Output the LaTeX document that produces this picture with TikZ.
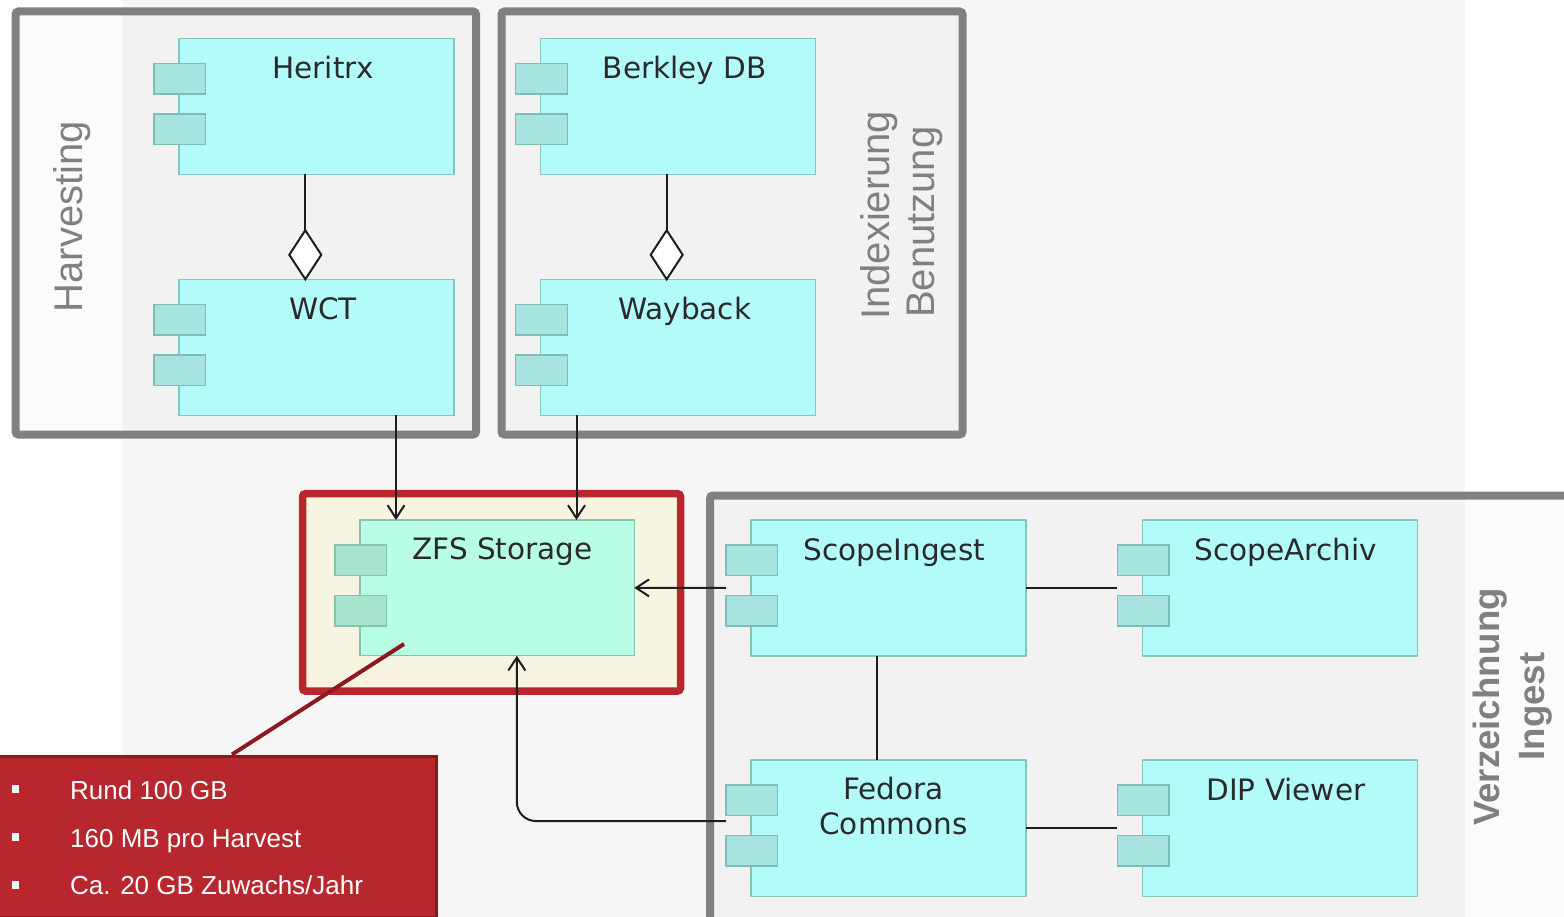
\documentclass[tikz,border=0pt]{standalone}
\usepackage{fontspec}
\setmainfont{DejaVu Sans}
\newfontfamily\lsans{Liberation Sans}
\usetikzlibrary{arrows.meta,shapes.geometric,calc}
\definecolor{band}{HTML}{F6F6F6}
\definecolor{framegray}{HTML}{808080}
\definecolor{compfill}{HTML}{B3FBF8}
\definecolor{compline}{HTML}{86C4C1}
\definecolor{portfill}{HTML}{A7E3DF}
\definecolor{portline}{HTML}{7DBDB9}
\definecolor{zfsfill}{HTML}{B8FDE5}
\definecolor{zfsport}{HTML}{A7E4CE}
\definecolor{zfsline}{HTML}{86C4AE}
\definecolor{cream}{HTML}{F7F5E2}
\definecolor{redbox}{HTML}{B8262E}
\definecolor{darkred}{HTML}{8B1A1F}
\definecolor{ink}{HTML}{1E1E1E}
\definecolor{lbl}{HTML}{2A2A2A}
\definecolor{grplbl}{HTML}{808080}
\tikzset{
  comp/.style={draw=compline, fill=compfill, line width=1.5pt, anchor=north west,
    minimum width=275pt, minimum height=136pt, inner sep=0pt, outer sep=0pt},
  zcomp/.style={comp, draw=zfsline, fill=zfsfill},
  port/.style={draw=portline, fill=portfill, line width=1.5pt},
  zport/.style={draw=zfsline, fill=zfsport, line width=1.5pt},
  clabel/.style={anchor=base, text=lbl, font=\fontsize{29.5}{35}\selectfont, inner sep=0pt, align=center},
  grp/.style={draw=framegray, line width=8pt, rounded corners=3pt, fill=black, fill opacity=0.015,
    anchor=north west, inner sep=0pt, outer sep=0pt},
  redframe/.style={draw=redbox, line width=7.5pt, rounded corners=3pt, fill=cream,
    anchor=north west, inner sep=0pt, outer sep=0pt},
  glabel/.style={text=grplbl, font=\lsans\fontsize{40}{46}\selectfont, inner sep=0pt, rotate=90},
  gblabel/.style={text=grplbl, font=\lsans\bfseries\fontsize{36.6}{42}\selectfont, inner sep=0pt, rotate=90},
  dia/.style={diamond, draw=ink, fill=white, line width=2pt, minimum width=32pt, minimum height=49pt, inner sep=0pt, outer sep=0pt},
  conn/.style={draw=ink, line width=2pt},
  arr/.style={-{Straight Barb[length=13pt,width=17pt,line width=2pt]}},
  legbox/.style={fill=redbox, draw=darkred, line width=3pt, anchor=north west, inner sep=0pt,
    minimum width=439pt, minimum height=161pt},
  ltext/.style={anchor=base west, text=white, font=\lsans\fontsize{26}{30}\selectfont, inner sep=0pt},
  bullet/.style={fill=white, minimum size=7.5pt, inner sep=0pt},
  callout/.style={draw=darkred, line width=4pt}
}
\newcommand\compports[2]{%
  \draw[#2] ([shift={(-25pt,-25pt)}]#1.north west) rectangle ++(51.7,30.7);
  \draw[#2] ([shift={(-25pt,-75.7pt)}]#1.north west) rectangle ++(51.7,30.5);}
\begin{document}
\begin{tikzpicture}[x=1pt,y=-1pt]
\useasboundingbox (0,0) rectangle (1564,917);
\fill[band] (122,0) rectangle (1465,917);
% groups
\node[grp, minimum width=460.5pt, minimum height=423pt] (gharv) at (15.5,11.5) {};
\node[grp, minimum width=461pt, minimum height=423pt] (gidx) at (501.5,11.5) {};
\node[grp, minimum width=880pt, minimum height=425.5pt] (gverz) at (710,495.5) {};
\node[redframe, minimum width=378pt, minimum height=197.3pt] (zfsframe) at (302.5,493.7) {};
% group labels
\node[glabel, anchor=base] (lharv) at (82,216.7) {Harvesting};
\node[glabel, anchor=base west] (lidx) at (889.6,320) {Indexierung};
\node[glabel, anchor=base west] (lben) at (934.6,318) {Benutzung};
\node[gblabel, anchor=base] (lverz) at (1499.5,707) {Verzeichnung};
\node[gblabel, anchor=base] (ling) at (1544,706.5) {Ingest};
% components
\node[comp] (her) at (179,38.3) {};
\node[comp] (wct) at (179,279.3) {};
\node[comp] (bdb) at (540.7,38.3) {};
\node[comp] (wb) at (540.7,279.3) {};
\node[zcomp, minimum width=274.3pt, minimum height=135.7pt] (zfs) at (360,520) {};
\node[comp] (si) at (751,520) {};
\node[comp] (sa) at (1142.4,520) {};
\node[comp, minimum height=136.7pt] (fed) at (751,760) {};
\node[comp, minimum height=136.7pt] (dip) at (1142.4,760) {};
\compports{her}{port}
\compports{wct}{port}
\compports{bdb}{port}
\compports{wb}{port}
\compports{zfs}{zport}
\compports{si}{port}
\compports{sa}{port}
\compports{fed}{port}
\compports{dip}{port}
% labels
\node[clabel] (ther) at ([shift={(6.5pt,-40pt)}]her.north) {Heritrx};
\node[clabel] (twct) at ([shift={(6.5pt,-40pt)}]wct.north) {WCT};
\node[clabel] (tbdb) at ([shift={(6.5pt,-40pt)}]bdb.north) {Berkley DB};
\node[clabel] (twb) at ([shift={(6.5pt,-40pt)}]wb.north) {Wayback};
\node[clabel] (tzfs) at ([shift={(5.3pt,-39pt)}]zfs.north) {ZFS Storage};
\node[clabel] (tsi) at ([shift={(6pt,-40pt)}]si.north) {ScopeIngest};
\node[clabel] (tsa) at ([shift={(6pt,-40pt)}]sa.north) {ScopeArchiv};
\node[clabel] (tfed) at ([shift={(5pt,-74pt)}]fed.north) {Fedora\\Commons};
\node[clabel] (tdip) at ([shift={(6pt,-40pt)}]dip.north) {DIP Viewer};
% aggregation diamonds
\node[dia] (d1) at (305.3,254.8) {};
\node[dia] (d2) at (666.7,254.8) {};
\draw[conn] (her.south -| d1.north) -- (d1.north);
\draw[conn] (bdb.south -| d2.north) -- (d2.north);
% connectors
\draw[conn, arr] ([xshift=217pt]wct.south west) -- ([xshift=36pt]zfs.north west);
\draw[conn, arr] ([xshift=35.8pt]wb.south west) -- ([xshift=216.5pt]zfs.north west);
\draw[conn, arr] ([xshift=-25pt]si.west) -- (zfs.east);
\draw[conn, arr, rounded corners=19pt] ([shift={(-25pt,7.3pt)}]fed.west) -| ([xshift=19.7pt]zfs.south);
\draw[conn] (si.east) -- ([xshift=-25pt]sa.west);
\draw[conn] (fed.east) -- ([xshift=-25pt]dip.west);
\draw[conn] ([xshift=126.4pt]si.south west) -- ([xshift=126.4pt]fed.north west);
% callout
\node[legbox] (leg) at (-4,754.5) {};
\coordinate (cs) at (404,644);
\draw[callout] (cs) -- ([xshift=236pt]leg.north west);
\node[bullet] (b1) at (15.5,789) {};
\node[bullet] (b2) at (15.5,837) {};
\node[bullet] (b3) at (15.5,885) {};
\node[ltext] (t1) at (70,799) {Rund 100 GB};
\node[ltext] (t2) at (70,847) {160 MB pro Harvest};
\node[ltext] (t3) at (70,894.3) {Ca. 20 GB Zuwachs/Jahr};
\end{tikzpicture}
\end{document}
